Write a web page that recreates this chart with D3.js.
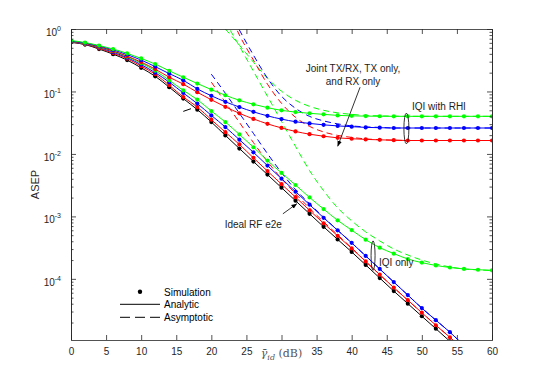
<!DOCTYPE html>
<html>
<head>
<meta charset="utf-8">
<script src="https://cdn.jsdelivr.net/npm/d3@7/dist/d3.min.js"></script>
<style>
  body { margin: 0; background: #fff; }
  svg { display: block; }
  text { font-family: "Liberation Sans", Arial, Helvetica, sans-serif; }
</style>
</head>
<body>
<svg id="chart" width="545" height="382"></svg>
<script>
// SNR grid (dB), one point every 2 dB
var snr = [0,2,4,6,8,10,12,14,16,18,20,22,24,26,28,30,32,34,36,38,40,42,44,46,48,50,52,54,56,58,60];

// analytic / simulated ASEP
var ideal = [0.611,0.564,0.477,0.396,0.318,0.239,0.175,0.117,0.0769,0.0512,0.0324,0.0198,0.0122,0.00755,0.00467,0.00288,0.00178,0.00110,6.81e-4,4.28e-4,2.70e-4,1.67e-4,1.03e-4,6.37e-5,4.01e-5,2.52e-5,1.59e-5,1.0e-5,6.3e-6,4.0e-6,2.5e-6];
var iqiG = [0.630,0.580,0.514,0.440,0.361,0.284,0.215,0.151,0.104,0.0741,0.0486,0.0324,0.0205,0.0128,0.00783,0.00497,0.00318,0.00201,0.00131,8.65e-4,6.03e-4,4.24e-4,3.16e-4,2.54e-4,2.08e-4,1.82e-4,1.64e-4,1.52e-4,1.44e-4,1.40e-4,1.37e-4];
var iqiB = [0.623,0.574,0.504,0.427,0.348,0.269,0.200,0.141,0.0946,0.0639,0.0414,0.0269,0.0169,0.0106,0.00651,0.00402,0.00249,0.00154,9.5e-4,5.98e-4,3.77e-4,2.33e-4,1.44e-4,8.89e-5,5.50e-5,3.40e-5,2.18e-5,1.40e-5,8.6e-6,5.4e-6,3.4e-6];
var iqiR = [0.618,0.568,0.491,0.411,0.336,0.254,0.189,0.126,0.0816,0.0563,0.0353,0.0223,0.0142,0.00865,0.00531,0.00328,0.00203,0.00125,7.74e-4,4.88e-4,3.07e-4,1.90e-4,1.17e-4,7.24e-5,4.56e-5,2.87e-5,1.81e-5,1.16e-5,7.3e-6,4.6e-6,2.9e-6];
var rhiG = [0.653,0.607,0.543,0.477,0.407,0.338,0.274,0.214,0.169,0.134,0.107,0.0869,0.0722,0.0623,0.0551,0.0499,0.0468,0.0447,0.0430,0.0414,0.0407,0.0403,0.0401,0.0400,0.0400,0.0400,0.0400,0.0400,0.0400,0.0400,0.0400];
var rhiB = [0.641,0.596,0.533,0.463,0.389,0.318,0.250,0.193,0.151,0.110,0.0853,0.0683,0.0563,0.0472,0.0407,0.0361,0.0328,0.0308,0.0292,0.0281,0.0273,0.0266,0.0263,0.0260,0.0260,0.0260,0.0260,0.0260,0.0260,0.0260,0.0260];
var rhiR = [0.634,0.585,0.519,0.446,0.368,0.295,0.228,0.169,0.131,0.0971,0.0736,0.0568,0.0447,0.0364,0.0303,0.0261,0.0229,0.0207,0.0192,0.0181,0.0175,0.0171,0.0168,0.0166,0.0164,0.0164,0.0164,0.0164,0.0164,0.0164,0.0164];

// asymptotic curves (null = not drawn)
var asyIqiG = [null,null,null,null,null,null,null,null,null,null,null,1.30,0.533,0.211,0.0837,0.0332,0.0132,0.00541,0.00258,0.00137,8.5e-4,5.65e-4,4.05e-4,3.01e-4,2.41e-4,2.0e-4,1.73e-4,1.55e-4,1.44e-4,1.39e-4,1.36e-4];
var asyIqiB = [null,null,null,null,null,null,null,null,null,null,0.189,0.0935,0.0447,0.0213,0.0101,0.00502,0.00268,0.00160,9.7e-4,6.0e-4,3.77e-4,2.33e-4,1.44e-4,8.89e-5,5.5e-5,3.4e-5,2.18e-5,1.4e-5,8.6e-6,5.4e-6,3.4e-6];
var asyIqiR = [null,null,null,null,null,null,null,null,null,null,0.141,0.0670,0.0320,0.0152,0.00755,0.00402,0.00231,0.00135,8.2e-4,5.06e-4,3.13e-4,1.90e-4,1.17e-4,7.24e-5,4.56e-5,2.87e-5,1.81e-5,1.16e-5,7.3e-6,4.6e-6,2.9e-6];
var asyRhiG = [null,null,null,null,null,null,null,null,null,null,null,1.0,0.553,0.295,0.163,0.101,0.0722,0.0578,0.0499,0.0455,0.0430,0.0414,0.0407,0.0403,0.0400,0.0400,0.0400,0.0400,0.0400,0.0400,0.0400];
var asyRhiB = [null,null,null,null,null,null,null,null,null,null,null,2.6,0.964,0.382,0.163,0.0837,0.0537,0.0399,0.0338,0.0303,0.0281,0.0271,0.0266,0.0260,0.0260,0.0260,0.0260,0.0260,0.0260,0.0260,0.0260];
var asyRhiR = [null,null,null,null,null,null,null,null,null,null,null,2.6,0.801,0.318,0.131,0.0646,0.0385,0.0276,0.0225,0.0198,0.0184,0.0174,0.0169,0.0166,0.0164,0.0164,0.0164,0.0164,0.0164,0.0164,0.0164];

// short stray dash left of the bundle
var strayX = [16, 17.1];
var strayY = [0.048, 0.053];

// ticks ("30" is covered by the x label in the original)
var xTicks = [0,5,10,15,20,25,30,35,40,45,50,55,60];
var xTickLabels = ["0","5","10","15","20","25","","35","40","45","50","55","60"];
var yTicks = [1, 0.1, 0.01, 0.001, 0.0001];
var yExp = ["0", "-1", "-2", "-3", "-4"];

var svg = d3.select("#chart");
var x = d3.scaleLinear().domain([0, 60]).range([71, 492]);
var y = d3.scaleLog().domain([1.05e-5, 1]).range([340, 29]);
var axisColor = "#262626";

svg.append("rect").attr("width", 545).attr("height", 382).attr("fill", "#fff");

svg.append("clipPath").attr("id", "plotclip")
  .append("rect")
  .attr("x", x(0)).attr("y", y(1))
  .attr("width", x(60) - x(0)).attr("height", y(1.05e-5) - y(1));

var plot = svg.append("g").attr("clip-path", "url(#plotclip)");

var line = d3.line()
  .defined(function (d) { return d[1] !== null; })
  .x(function (d) { return x(d[0]); })
  .y(function (d) { return y(d[1]); })
  .curve(d3.curveMonotoneX);

function pairs(vals) {
  return snr.map(function (s, i) { return [s, vals[i]]; });
}

var dashed = [
  { v: asyIqiG, c: "#00ff00" },
  { v: asyRhiG, c: "#00ff00" },
  { v: asyIqiB, c: "#0000ff" },
  { v: asyRhiB, c: "#0000ff" },
  { v: asyIqiR, c: "#ff0000" },
  { v: asyRhiR, c: "#ff0000" }
];
dashed.forEach(function (s) {
  plot.append("path")
    .attr("d", line(pairs(s.v)))
    .attr("fill", "none")
    .attr("stroke", s.c)
    .attr("stroke-width", 1)
    .attr("stroke-dasharray", "6,4");
});

plot.append("path")
  .attr("d", line(strayX.map(function (s, i) { return [s, strayY[i]]; })))
  .attr("fill", "none")
  .attr("stroke", "#000")
  .attr("stroke-width", 1);

var solid = [
  { v: ideal, c: "#000000" },
  { v: iqiR, c: "#ff0000" },
  { v: iqiB, c: "#0000ff" },
  { v: iqiG, c: "#00ff00" },
  { v: rhiR, c: "#ff0000" },
  { v: rhiB, c: "#0000ff" },
  { v: rhiG, c: "#00ff00" }
];
solid.forEach(function (s) {
  plot.append("path")
    .attr("d", line(pairs(s.v)))
    .attr("fill", "none")
    .attr("stroke", s.c)
    .attr("stroke-width", 1);
  plot.append("g")
    .selectAll("circle")
    .data(pairs(s.v))
    .enter()
    .append("circle")
    .attr("cx", function (d) { return x(d[0]); })
    .attr("cy", function (d) { return y(d[1]); })
    .attr("r", 2.1)
    .attr("fill", s.c);
});

// axes (MATLAB style: box, inward ticks)
var minorTicks = [];
[1e-5, 1e-4, 1e-3, 1e-2, 1e-1].forEach(function (dec) {
  for (var k = 2; k <= 9; k++) { minorTicks.push(dec * k); }
});
minorTicks = minorTicks.filter(function (t) { return t >= 1.05e-5 && t <= 1; });

function styleAxis(g) {
  g.selectAll("path, line").attr("stroke", axisColor).attr("stroke-width", 0.8);
  g.selectAll("text").attr("fill", axisColor).style("font-size", "10px");
}

svg.append("g").attr("transform", "translate(0," + y(1.05e-5) + ")")
  .call(d3.axisBottom(x).tickValues(xTicks).tickSizeInner(-5).tickSizeOuter(0).tickPadding(8)
    .tickFormat(function (d, i) { return xTickLabels[i]; }))
  .call(styleAxis)
  .call(function (g) { g.attr("font-family", null); });

svg.append("g").attr("transform", "translate(0," + y(1) + ")")
  .call(d3.axisTop(x).tickValues(xTicks).tickSizeInner(-5).tickSizeOuter(0).tickFormat(""))
  .call(styleAxis);

svg.append("g").attr("transform", "translate(" + x(0) + ",0)")
  .call(d3.axisLeft(y).tickValues(yTicks).tickSizeInner(-5).tickSizeOuter(0).tickFormat(""))
  .call(styleAxis);
svg.append("g").attr("transform", "translate(" + x(0) + ",0)")
  .call(d3.axisLeft(y).tickValues(minorTicks).tickSizeInner(-2.5).tickSizeOuter(0).tickFormat(""))
  .call(styleAxis);
svg.append("g").attr("transform", "translate(" + x(60) + ",0)")
  .call(d3.axisRight(y).tickValues(yTicks).tickSizeInner(-5).tickSizeOuter(0).tickFormat(""))
  .call(styleAxis);
svg.append("g").attr("transform", "translate(" + x(60) + ",0)")
  .call(d3.axisRight(y).tickValues(minorTicks).tickSizeInner(-2.5).tickSizeOuter(0).tickFormat(""))
  .call(styleAxis);

// y tick labels 10^k
var yl = svg.append("g").selectAll("text")
  .data(yTicks)
  .enter()
  .append("text")
  .attr("x", x(0) - 10)
  .attr("y", function (d) { return y(d) + 7; })
  .attr("text-anchor", "end")
  .attr("fill", axisColor)
  .style("font-size", "10px");
yl.append("tspan").text("10");
yl.append("tspan")
  .attr("dy", -5)
  .style("font-size", "7px")
  .text(function (d, i) { return yExp[i]; });

// axis titles
svg.append("text")
  .attr("transform", "translate(39," + ((y(1) + y(1.05e-5)) / 2) + ") rotate(-90)")
  .attr("text-anchor", "middle")
  .attr("fill", axisColor)
  .style("font-size", "11px")
  .text("ASEP");

var xl = svg.append("text")
  .attr("x", x(30))
  .attr("y", 357)
  .attr("text-anchor", "middle")
  .attr("fill", "#555")
  .style("font-family", "'DejaVu Serif', 'Liberation Serif', serif")
  .style("font-size", "11px");
xl.append("tspan").style("font-style", "italic").text("\u03b3\u0304");
xl.append("tspan").attr("dy", 3).style("font-style", "italic").style("font-size", "8px").text("id");
xl.append("tspan").attr("dy", -3).text(" (dB)");

// annotations (in data units)
var ann = svg.append("g").attr("fill", "#222").style("font-size", "10px");
ann.append("text").attr("x", x(40.2)).attr("y", y(0.204)).attr("text-anchor", "middle").text("Joint TX/RX, TX only,");
ann.append("text").attr("x", x(40.2)).attr("y", y(0.126)).attr("text-anchor", "middle").text("and RX only");
ann.append("text").attr("x", x(48.6)).attr("y", y(0.0499)).text("IQI with RHI");
ann.append("text").attr("x", x(43.9)).attr("y", y(1.58e-4)).text("IQI only");
ann.append("text").attr("x", x(21.9)).attr("y", y(6.56e-4)).text("Ideal RF e2e");

svg.append("defs").append("marker")
  .attr("id", "arrow")
  .attr("viewBox", "0 0 10 10")
  .attr("refX", 10).attr("refY", 5)
  .attr("markerWidth", 7).attr("markerHeight", 7)
  .attr("orient", "auto")
  .append("path").attr("d", "M0,1 L10,5 L0,9 z").attr("fill", "#000");

function arrow(x1, y1, x2, y2) {
  svg.append("line")
    .attr("x1", x(x1)).attr("y1", y(y1))
    .attr("x2", x(x2)).attr("y2", y(y2))
    .attr("stroke", "#000").attr("stroke-width", 0.8)
    .attr("marker-end", "url(#arrow)");
}
arrow(41.2, 0.117, 38.0, 0.0132);
arrow(30.2, 0.0011, 32.2, 0.0016);

function ellipse(cxDb, yTop, yBot, rx) {
  var t = y(yTop), b = y(yBot);
  svg.append("ellipse")
    .attr("cx", x(cxDb)).attr("cy", (t + b) / 2)
    .attr("rx", rx).attr("ry", (b - t) / 2)
    .attr("fill", "none").attr("stroke", "#000").attr("stroke-width", 0.8);
}
ellipse(47.8, 0.045, 0.0145, 2.5);
ellipse(43.05, 4.05e-4, 1.37e-4, 2);

// legend
var lg = svg.append("g").style("font-size", "10px");
lg.append("circle").attr("cx", 140).attr("cy", 291.7).attr("r", 2.2).attr("fill", "#000");
lg.append("text").attr("x", 164).attr("y", 295.5).attr("fill", "#000").text("Simulation");
lg.append("line").attr("x1", 120).attr("x2", 160).attr("y1", 304.3).attr("y2", 304.3)
  .attr("stroke", "#000").attr("stroke-width", 1);
lg.append("text").attr("x", 164).attr("y", 308).attr("fill", "#000").text("Analytic");
lg.append("line").attr("x1", 120).attr("x2", 160).attr("y1", 317.3).attr("y2", 317.3)
  .attr("stroke", "#000").attr("stroke-width", 1).attr("stroke-dasharray", "10,5");
lg.append("text").attr("x", 164).attr("y", 321).attr("fill", "#000").text("Asymptotic");
</script>
</body>
</html>
